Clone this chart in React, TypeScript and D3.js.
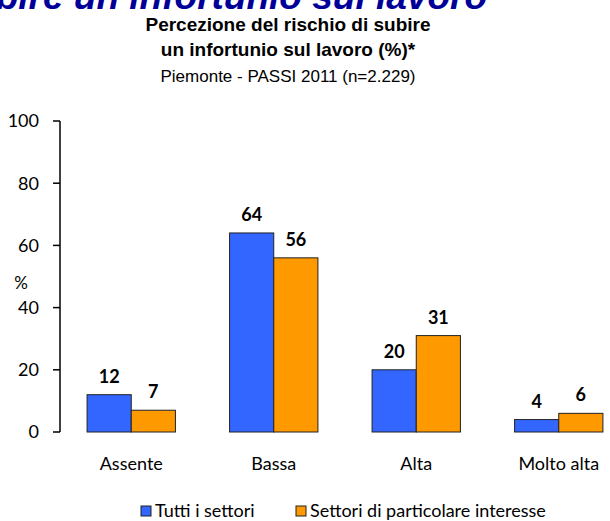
import React from "react";
import * as d3 from "d3";

const categories = ["Assente", "Bassa", "Alta", "Molto alta"];
const seriesNames = ["Tutti i settori", "Settori di particolare interesse"];
const tuttiValues = [12, 64, 20, 4];
const particolareValues = [7, 56, 31, 6];
const yTicks = [0, 20, 40, 60, 80, 100];
const colors = ["#3366FF", "#FF9900"];

const W = 610;
const H = 521;

export default function App() {
  const x = d3.scaleBand<string>().domain(categories).range([60, 630]).paddingInner(0.38).paddingOuter(0.19);
  const x1 = d3.scaleBand<number>().domain([0, 1]).range([0, x.bandwidth()]);
  const y = d3.scaleLinear().domain([0, 100]).range([432, 121]);
  const series = [tuttiValues, particolareValues];
  const lab = "Lato, 'Open Sans', sans-serif";
  const arial = "'Liberation Sans', Arial, sans-serif";

  return (
    <svg width={W} height={H} style={{ position: "absolute", left: 0, top: 0, background: "#fff" }}>
      <text x={487} y={9} textAnchor="end" fontFamily={arial} fontWeight="bold" fontStyle="italic" fontSize={37} fill="#000099">
        Percezione del rischio di subire un infortunio sul lavoro
      </text>
      <text x={288} y={31} textAnchor="middle" fontFamily={arial} fontWeight="bold" fontSize={19} fill="#000">
        Percezione del rischio di subire
      </text>
      <text x={288} y={56} textAnchor="middle" fontFamily={arial} fontWeight="bold" fontSize={19} fill="#000">
        un infortunio sul lavoro (%)*
      </text>
      <text x={288} y={82} textAnchor="middle" fontFamily={arial} fontSize={17} fill="#000">
        Piemonte - PASSI 2011 (n=2.229)
      </text>

      {/* y axis */}
      <line x1={60} x2={60} y1={y(100)} y2={y(0)} stroke="#000" strokeWidth={1.5} />
      {yTicks.map((t) => (
        <g key={t}>
          <line x1={53} x2={60} y1={y(t)} y2={y(t)} stroke="#000" strokeWidth={1.5} />
          <text x={39} y={y(t)} dy="0.35em" textAnchor="end" fontFamily={lab} fontSize={18} fill="#000">
            {t}
          </text>
        </g>
      ))}
      <text x={21} y={283} dy="0.35em" textAnchor="middle" fontFamily={lab} fontSize={17} fill="#000">%</text>

      {/* bars */}
      {categories.map((c, i) => (
        <g key={c} transform={`translate(${x(c)},0)`}>
          {series.map((vals, s) => (
            <g key={s}>
              <rect
                x={x1(s)}
                y={y(vals[i])}
                width={x1.bandwidth()}
                height={y(0) - y(vals[i])}
                fill={colors[s]}
                stroke="#222"
                strokeWidth={1}
              />
              <text
                x={(x1(s) as number) + x1.bandwidth() / 2}
                y={y(vals[i]) - 12}
                textAnchor="middle"
                fontFamily={lab}
                fontWeight="bold"
                fontSize={18}
                fill="#000"
              >
                {vals[i]}
              </text>
            </g>
          ))}
          <text x={x.bandwidth() / 2} y={470} textAnchor="middle" fontFamily={lab} fontSize={18} fill="#000">
            {c}
          </text>
        </g>
      ))}

      {/* legend */}
      {seriesNames.map((n, s) => {
        const lx = s === 0 ? 141 : 296;
        return (
          <g key={n}>
            <rect x={lx} y={506} width={10} height={10} fill={colors[s]} stroke="#222" strokeWidth={1} />
            <text x={lx + 14} y={517} fontFamily={lab} fontSize={18} fill="#000">
              {n}
            </text>
          </g>
        );
      })}
    </svg>
  );
}
